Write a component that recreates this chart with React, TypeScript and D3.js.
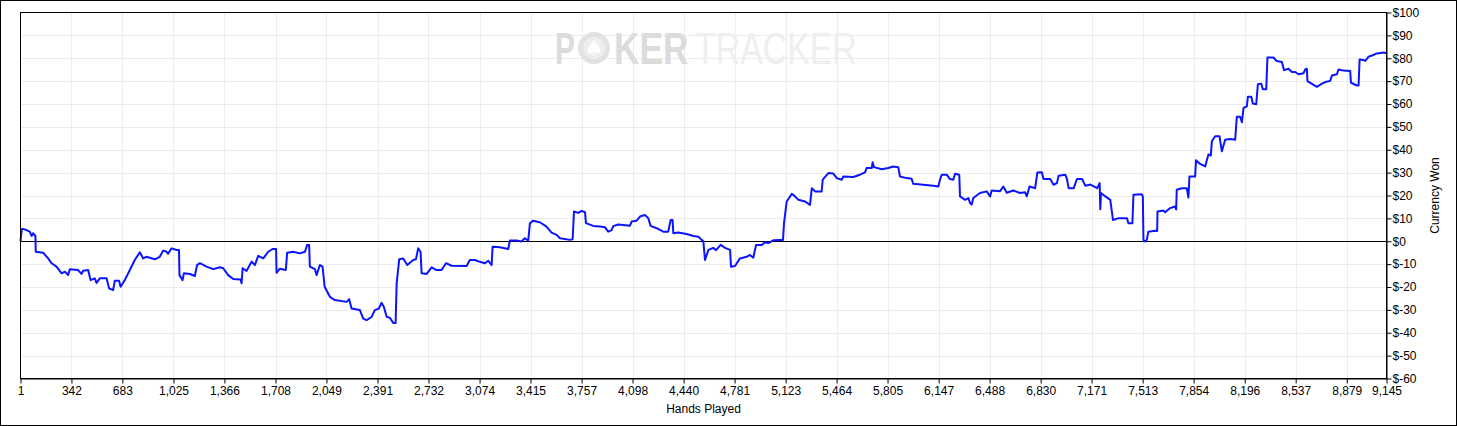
import * as d3 from 'd3'
import { useRef, useEffect } from 'react'

// hand number (x) and cumulative $ won (y)
const hands = [
  1, 10, 18, 41, 63, 75, 85, 101, 103, 152, 186, 209, 242, 276, 298, 320, 331, 387, 409, 420,
  454, 470, 498, 510, 532, 577, 594, 621, 632, 661, 671, 699, 733, 766, 800, 822, 843, 900, 933, 956,
  977, 989, 1012, 1046, 1062, 1065, 1086, 1095, 1135, 1168, 1183, 1202, 1246, 1291, 1336, 1358, 1391, 1425, 1474, 1481,
  1488, 1514, 1548, 1570, 1592, 1626, 1659, 1688, 1712, 1715, 1737, 1777, 1786, 1826, 1871, 1905, 1920, 1933, 1938, 1972,
  1983, 2005, 2023, 2037, 2072, 2105, 2184, 2201, 2217, 2273, 2295, 2318, 2351, 2373, 2400, 2418, 2433, 2452, 2474, 2496,
  2512, 2519, 2536, 2563, 2590, 2630, 2648, 2663, 2679, 2686, 2720, 2753, 2787, 2820, 2849, 2887, 2987, 3009, 3043, 3076,
  3110, 3132, 3155, 3161, 3210, 3266, 3277, 3322, 3355, 3377, 3400, 3411, 3433, 3477, 3522, 3556, 3590, 3612, 3679, 3697,
  3706, 3735, 3757, 3780, 3786, 3835, 3880, 3914, 3935, 3958, 3969, 4002, 4081, 4092, 4125, 4148, 4181, 4203, 4219, 4259,
  4304, 4337, 4353, 4366, 4371, 4404, 4460, 4505, 4539, 4561, 4572, 4583, 4606, 4639, 4657, 4688, 4717, 4751, 4757, 4784,
  4817, 4862, 4884, 4906, 4925, 4963, 4985, 5007, 5040, 5085, 5105, 5112, 5130, 5164, 5174, 5208, 5253, 5286, 5298, 5320,
  5364, 5371, 5409, 5442, 5465, 5498, 5509, 5576, 5620, 5654, 5665, 5699, 5705, 5714, 5766, 5810, 5843, 5877, 5888, 5933,
  5966, 5977, 6044, 6111, 6145, 6156, 6168, 6201, 6223, 6245, 6257, 6285, 6290, 6324, 6346, 6357, 6368, 6379, 6424, 6469,
  6491, 6502, 6558, 6580, 6603, 6647, 6692, 6726, 6737, 6755, 6793, 6808, 6838, 6849, 6894, 6916, 6939, 6950, 6995, 7006,
  7017, 7051, 7073, 7107, 7129, 7163, 7208, 7225, 7229, 7234, 7263, 7296, 7314, 7352, 7408, 7417, 7444, 7451, 7507, 7514,
  7518, 7529, 7540, 7551, 7596, 7610, 7612, 7652, 7663, 7697, 7730, 7737, 7741, 7775, 7808, 7819, 7826, 7864, 7870, 7897,
  7931, 7953, 7969, 7976, 7998, 8027, 8043, 8065, 8099, 8132, 8143, 8165, 8177, 8188, 8210, 8217, 8240, 8250, 8273, 8284,
  8307, 8317, 8340, 8348, 8388, 8410, 8445, 8459, 8489, 8512, 8534, 8556, 8589, 8601, 8612, 8616, 8646, 8679, 8713, 8735,
  8768, 8780, 8813, 8824, 8857, 8902, 8907, 8947, 8958, 8965, 8992, 9003, 9025, 9048, 9081, 9126, 9145,
]
const won = [
  0, 5.4, 5.4, 4.9, 4.2, 2.3, 3.5, 2.3, -4.6, -5, -7.5, -9.6, -11.1, -14, -13.3, -14.8, -12.2, -12.6, -14.3, -12.9,
  -12.6, -17, -16.2, -18.2, -16.2, -16.2, -20.6, -21.4, -17.3, -17.3, -19.9, -17, -12.6, -8.2, -4.8, -7.5, -6.8, -7.9, -6.8, -4.1,
  -4.5, -5.5, -3.1, -3.8, -3.8, -14.8, -17, -14, -14.3, -15.2, -10.4, -9.6, -11.1, -12.2, -11.4, -11.8, -14.8, -16.5, -16.7, -18.4,
  -11.8, -13, -8.9, -10.4, -6.4, -7.5, -4.6, -3.4, -3.4, -13.8, -12, -12.6, -5, -4.6, -5.3, -4.6, -1.6, -1.6, -11.1, -12.2,
  -14.8, -10.4, -11.1, -19.9, -24.3, -25.7, -26.5, -25.3, -29.4, -30.1, -33.8, -34.5, -33.1, -30.1, -29.4, -26.9, -28.6, -33, -33.5, -35.7,
  -35.7, -18.4, -7.9, -7.5, -10.4, -8.2, -7.9, -3.1, -4.6, -14, -14.3, -11.4, -12.6, -12.6, -9.6, -10.7, -10.8, -8.2, -8.2, -9,
  -9.6, -8.5, -10.4, -2.4, -2.6, -3.4, 0.3, 0.3, -0.1, 1.3, 0.3, 7.9, 9, 8.3, 6.4, 3.8, 2.8, 1.3, 0.6, 0.9,
  13, 12.4, 13.3, 12.7, 7.9, 6.7, 6.4, 6.1, 4.2, 4.9, 6.6, 7.3, 6.8, 8.6, 9, 10.8, 11.5, 10.1, 6.7, 5.7,
  4.2, 4.2, 9.3, 9.3, 3.5, 3.8, 3.2, 2.3, 2, 0.6, 0, -8.2, -3.8, -2.9, -3.9, -1.6, -2.9, -3.8, -11.1, -10.8,
  -7.5, -6.8, -6, -7.2, -1.6, -1.6, -0.4, -0.8, 0.4, 0.6, 0.6, 7.9, 17.4, 20.7, 20.3, 18.1, 17.4, 15.9, 23.2, 21.8,
  21.8, 26.9, 29.8, 29.6, 27.6, 26.9, 28.3, 28.1, 29.1, 30.1, 32, 32, 34.5, 32.4, 31.5, 32, 32.7, 32.4, 28.3, 27.6,
  27.3, 25.1, 24.7, 24.3, 23.9, 26.9, 29.1, 29.1, 27.2, 26.9, 29.5, 29.1, 19.6, 18.1, 18.9, 16.7, 16, 18.9, 21.1, 21.8,
  19.6, 22.2, 21.9, 23.9, 21.2, 22.2, 21.1, 21.4, 19.6, 23.9, 23.2, 30.1, 30.2, 27.2, 27.2, 24.7, 25.4, 28.6, 29.1, 27.2,
  23.2, 23.2, 27.2, 27.2, 24.3, 24.8, 23.2, 25.4, 14, 21.1, 19.6, 18.1, 9.3, 10.1, 10.1, 7.9, 7.9, 20.3, 20.5, 19.6,
  0.6, -0.1, 0.6, 4.2, 4.6, 4.5, 13, 13.4, 12.7, 14.5, 15.2, 13.9, 22.5, 23.2, 23.2, 19.1, 28.3, 28.3, 35.4, 33.8,
  32.7, 37.9, 37.5, 43.7, 45.9, 45.9, 39.3, 44.4, 44.7, 44.4, 54.4, 54.4, 52, 58.3, 59, 63.2, 63.2, 60.2, 59.9, 68.6,
  68.9, 66.4, 66.4, 80.3, 80.3, 78.8, 78.4, 74.8, 75.4, 74, 74, 73, 73.4, 75.1, 75.4, 70, 68.8, 67.5, 68.9, 69.6,
  70.1, 72.5, 73, 75.1, 74.6, 74.4, 69.3, 68.1, 68.1, 79.5, 79.2, 78.8, 80.7, 81.2, 82.1, 82.5, 82.2,
]

const handTicks = [
  1, 342, 683, 1025, 1366, 1708, 2049, 2391, 2732, 3074, 3415, 3757, 4098, 4440,
  4781, 5123, 5464, 5805, 6147, 6488, 6830, 7171, 7513, 7854, 8196, 8537, 8879, 9145,
]
const wonTicks = [-60, -50, -40, -30, -20, -10, 0, 10, 20, 30, 40, 50, 60, 70, 80, 90, 100]

const width = 1457
const height = 426
const left = 20.5
const right = 1386.5
const top = 12.5
const bottom = 378.5
const font = '"Liberation Sans", Arial, sans-serif'

export default function App() {
  const gx = useRef<SVGGElement>(null)
  const gy = useRef<SVGGElement>(null)
  const x = d3.scaleLinear([1, 9145], [left, right])
  const y = d3.scaleLinear([-60, 100], [bottom, top])
  const pts = hands.map((h, i) => [h, won[i]] as [number, number])
  const line = d3.line<[number, number]>((d) => x(d[0]), (d) => y(d[1]))

  useEffect(() => {
    const g = d3.select(gx.current)
    g.call(
      d3.axisBottom(x).tickValues(handTicks).tickFormat(d3.format(',') as any).tickSize(5).tickSizeOuter(0).tickPadding(3) as any
    )
    g.attr('font-family', font).attr('font-size', 12)
    g.selectAll('.tick line').attr('stroke', '#000')
    g.select('.domain').attr('stroke', '#000')
  }, [x])

  useEffect(() => {
    const g = d3.select(gy.current)
    g.call(
      d3.axisRight(y).tickValues(wonTicks).tickFormat((d: any) => `$${d}`).tickSize(5).tickSizeOuter(0).tickPadding(1) as any
    )
    g.attr('font-family', font).attr('font-size', 12)
    g.selectAll('.tick line').attr('stroke', '#000')
    g.select('.domain').attr('stroke', '#000')
  }, [y])

  return (
    <svg width={width} height={height} style={{ position: 'absolute', left: 0, top: 0, background: '#fff' }}>
      <rect x={0.5} y={0.5} width={width - 1} height={height - 1} fill="#fff" stroke="#000" />
      {/* grid */}
      <g stroke="#ececec" strokeWidth={1}>
        {handTicks.slice(1, -1).map((t) => (
          <line key={t} x1={Math.round(x(t)) + 0.5} x2={Math.round(x(t)) + 0.5} y1={top} y2={bottom} />
        ))}
        {wonTicks.slice(1, -1).map((t) => (
          <line key={t} x1={left} x2={right} y1={Math.round(y(t)) + 0.5} y2={Math.round(y(t)) + 0.5} />
        ))}
      </g>
      {/* watermark */}
      <g fontFamily={font} fontSize={44}>
        <text transform="translate(555,64) scale(0.68,1)" fontWeight="bold" fill="#dcdcdc">P</text>
        <circle cx={594} cy={48} r={16} fill="#e2e2e2" />
        <circle cx={594} cy={48} r={11} fill="#ededed" />
        <text x={594} y={56} fontSize={22} textAnchor="middle" fill="#fff" fontFamily="DejaVu Sans">♠</text>
        <text transform="translate(614,64) scale(0.8,1)" fontWeight="bold" fill="#dcdcdc">KER</text>
        <text transform="translate(695,64) scale(0.77,1)" fill="#efefef">TRACKER</text>
      </g>
      {/* zero line */}
      <line x1={left} x2={right} y1={Math.round(y(0)) + 0.5} y2={Math.round(y(0)) + 0.5} stroke="#000" />
      <path d={line(pts) ?? undefined} fill="none" stroke="#0a14ff" strokeWidth={2} strokeLinejoin="round" />
      {/* plot frame */}
      <rect x={left} y={top} width={right - left} height={bottom - top} fill="none" stroke="#000" />
      <g ref={gx} transform={`translate(0,${bottom})`} />
      <g ref={gy} transform={`translate(${right},0)`} />
      <text x={(left + right) / 2} y={413} textAnchor="middle" fontFamily={font} fontSize={12}>Hands Played</text>
      <text transform={`translate(1439,${(top + bottom) / 2}) rotate(-90)`} textAnchor="middle" fontFamily={font} fontSize={12}>Currency Won</text>
    </svg>
  )
}
